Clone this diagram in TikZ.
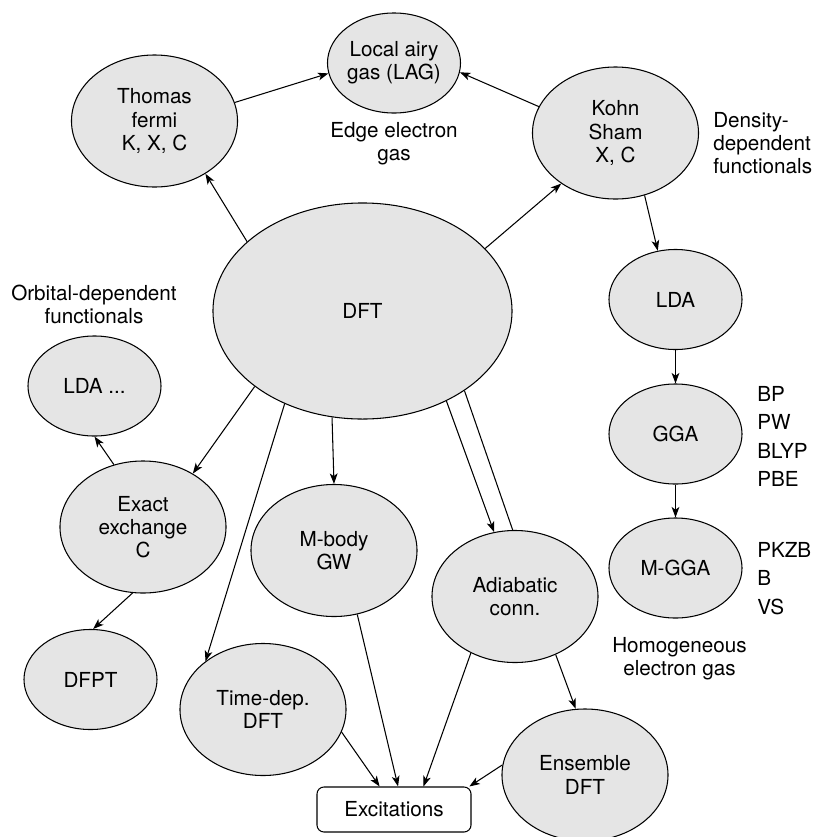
\documentclass[tikz,border=0pt]{standalone}
\usepackage{fontspec}
\setmainfont{TeX Gyre Heros}
\usetikzlibrary{shapes.geometric,arrows.meta}

\tikzset{
	blob/.style={ellipse, draw, fill=black!10, line width=0.75pt, inner sep=0pt, align=center, minimum width=4.15cm, minimum height=3.3cm},
	smallblob/.style={blob, minimum width=3.325cm, minimum height=2.5cm},
	note/.style={inner sep=0pt, align=center},
	arr/.style={line width=0.75pt, -{Stealth[length=7.5pt,width=5.5pt,inset=2pt]}}
}

\begin{document}
\begin{tikzpicture}[x=0.025cm, y=-0.025cm, font=\fontsize{14.7pt}{16.5pt}\selectfont]
		%%%%% START %%%%%
		\useasboundingbox (0, 0) rectangle (813, 837);
		
		\node[blob] (tf) at (154.5, 121) {Thomas\\fermi\\K, X, C};
		\node[smallblob] (lag) at (394, 63) {Local airy\\gas (LAG)};
		\node[blob] (ks) at (615.5, 133) {Kohn\\Sham\\X, C};
		\node[blob, minimum width=7.475cm, minimum height=5.4cm] (dft) at (362.5, 311) {DFT};
		
		\node[smallblob] (lda) at (675.5, 299.5) {LDA};
		\node[smallblob] (gga) at (675.5, 434) {GGA};
		\node[smallblob] (mgga) at (675.5, 568) {M-GGA};
		
		\node[smallblob] (ldal) at (94.5, 386) {LDA ...};
		\node[blob] (ee) at (143, 527) {Exact\\exchange\\C};
		\node[blob] (mb) at (334, 550.5) {M-body\\GW};
		\node[blob] (ad) at (515, 596.5) {Adiabatic\\conn.};
		\node[smallblob] (dfpt) at (90.5, 679.5) {DFPT};
		\node[blob] (td) at (263, 709.5) {Time-dep.\\DFT};
		\node[blob] (ens) at (585, 775) {Ensemble\\DFT};
		\node[draw, rounded corners=5pt, line width=0.75pt, minimum width=3.85cm, minimum height=1.125cm] (exc) at (394, 809.5) {Excitations};
		
		% labels
		\node[note, anchor=north] (edge) at (394, 122) {Edge electron\\gas};
		\node[note, anchor=north west, align=left] (dens) at (713, 112) {Density-\\dependent\\functionals};
		\node[note, anchor=north] (orb) at (94, 285) {Orbital-dependent\\functionals};
		\node[note, anchor=west, align=left, font=\fontsize{14.7pt}{20.2pt}\selectfont] (gganames) at (757, 436.5) {BP\\PW\\BLYP\\PBE};
		\node[note, anchor=west, align=left, font=\fontsize{14.7pt}{20.2pt}\selectfont] (mgganames) at (757, 578.5) {PKZB\\B\\VS};
		\node[note, anchor=north] (homog) at (679.5, 637) {Homogeneous\\electron gas};
		
		% arrows
		\draw[arr] (tf.13) -- (lag.189);
		\draw[arr] (ks.161) -- (lag.-8);
		\draw[arr] (dft.149.5) -- (tf.-46);
		\draw[arr] (dft.27) -- (ks.223);
		\draw[arr] (ks.-65) -- (lda.110);
		\draw[arr] (lda) -- (gga);
		\draw[arr] (gga) -- (mgga);
		
		\draw[arr] (dft.215) -- (ee.47);
		\draw[arr] (ee.115) -- (ldal.south);
		\draw[arr] (ee.-99) -- (dfpt.87);
		\draw[arr] (dft.230) -- (td.140);
		\draw[arr] (dft.254) -- (mb.north);
		\draw[arr] (dft.-47) -- (ad.108);
		\draw[line width=0.75pt] (dft.-38) -- (ad.92);
		
		\draw[arr] (mb.-70) -- (exc.80);
		\draw[arr] (td.-16) -- (exc.122);
		\draw[arr] (ad.232) -- (exc.38);
		\draw[arr] (ad.-55) -- (ens.98.5);
		\draw[arr] (ens.173) -- (exc.17);
		
		%%%%% END %%%%%
	\end{tikzpicture}
\end{document}
